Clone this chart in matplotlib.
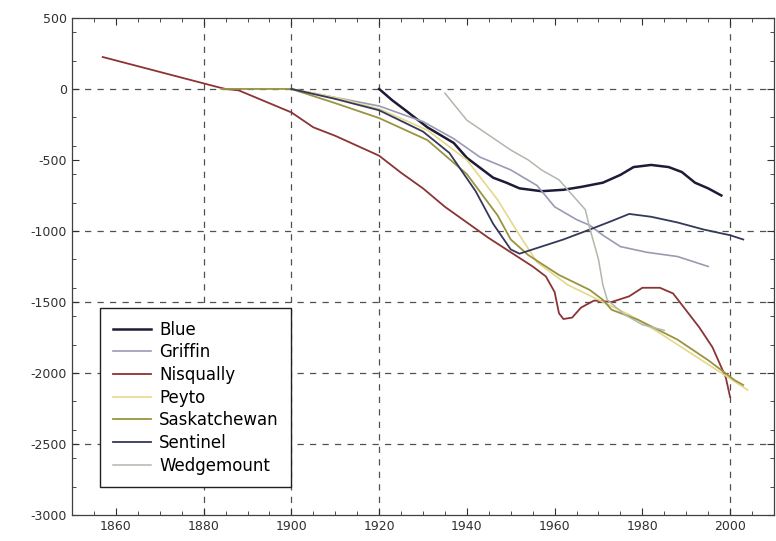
import matplotlib
matplotlib.use("Agg")
import matplotlib.pyplot as plt
from matplotlib.ticker import MultipleLocator

plt.rcParams['font.family'] = ['DejaVu Sans']
plt.rcParams['axes.unicode_minus'] = False

names = ["Blue", "Griffin", "Nisqually", "Peyto", "Saskatchewan", "Sentinel", "Wedgemount"]
colors = ["#1c1c38", "#9a9ab4", "#8a3434", "#e6d88a", "#9a9440", "#34385a", "#b0b8ac"]

blue_years = [1920, 1923, 1926, 1931, 1937, 1940, 1943, 1946, 1949, 1952, 1957, 1962, 1966, 1971, 1975, 1978, 1982, 1986, 1989, 1992, 1995, 1998]
blue_vals = [0, -80, -150, -270, -380, -485, -555, -625, -660, -700, -720, -710, -690, -660, -605, -550, -535, -550, -585, -660, -700, -750]

griffin_years = [1900, 1910, 1920, 1930, 1937, 1943, 1950, 1956, 1960, 1965, 1968, 1971, 1975, 1981, 1988, 1995]
griffin_vals = [0, -60, -120, -230, -350, -480, -570, -680, -830, -920, -960, -1030, -1110, -1150, -1180, -1250]

nisqually_years = [1857, 1870, 1883, 1885, 1888, 1900, 1905, 1910, 1920, 1925, 1930, 1935, 1940, 1945, 1950, 1955, 1958, 1960, 1961, 1962, 1964, 1966, 1969, 1973, 1977, 1980, 1984, 1987, 1990, 1993, 1996, 1999, 2000]
nisqually_vals = [225, 120, 15, 0, -10, -165, -270, -330, -470, -590, -700, -830, -940, -1050, -1150, -1250, -1320, -1430, -1580, -1620, -1610, -1540, -1490, -1500, -1460, -1400, -1400, -1440, -1560, -1680, -1820, -2030, -2170]

peyto_years = [1900, 1910, 1920, 1931, 1940, 1947, 1952, 1956, 1963, 1970, 1977, 1984, 1990, 1997, 2004]
peyto_vals = [0, -60, -140, -290, -500, -780, -1030, -1220, -1380, -1485, -1590, -1720, -1840, -1980, -2120]

sask_years = [1884, 1900, 1910, 1920, 1931, 1940, 1947, 1950, 1954, 1961, 1968, 1971, 1973, 1979, 1988, 1995, 2001, 2003]
sask_vals = [0, 0, -100, -205, -360, -600, -890, -1060, -1170, -1310, -1415, -1485, -1555, -1625, -1765, -1910, -2050, -2085]

sentinel_years = [1900, 1910, 1920, 1930, 1936, 1942, 1946, 1950, 1952, 1957, 1962, 1968, 1973, 1977, 1982, 1988, 1994, 2000, 2003]
sentinel_vals = [0, -70, -150, -300, -450, -720, -950, -1130, -1160, -1110, -1060, -990, -930, -880, -900, -940, -990, -1030, -1060]

wedge_years = [1935, 1940, 1945, 1950, 1954, 1957, 1961, 1964, 1967, 1968, 1970, 1971, 1972, 1976, 1980, 1985]
wedge_vals = [-30, -220, -325, -430, -500, -570, -640, -745, -850, -980, -1200, -1380, -1485, -1590, -1660, -1700]

series_years = [blue_years, griffin_years, nisqually_years, peyto_years, sask_years, sentinel_years, wedge_years]
series_vals = [blue_vals, griffin_vals, nisqually_vals, peyto_vals, sask_vals, sentinel_vals, wedge_vals]
widths = [1.8, 1.2, 1.3, 1.2, 1.3, 1.3, 1.1]

x_ticks = [1860, 1880, 1900, 1920, 1940, 1960, 1980, 2000]
y_ticks = [500, 0, -500, -1000, -1500, -2000, -2500, -3000]
vgrid = [1880, 1900, 1920, 2000]
hgrid = [0, -1000, -1500, -2000, -2500]

fig = plt.figure(figsize=(7.76, 5.41), dpi=100)
ax = fig.add_axes([0.0928, 0.0481, 0.9046, 0.9187])

for v in vgrid:
    ax.axvline(v, color="#505050", lw=0.9, dashes=(5, 5), zorder=1)
for h in hgrid:
    ax.axhline(h, color="#505050", lw=0.9, dashes=(5, 5), zorder=1)

for n, c, yrs, vals, w in zip(names, colors, series_years, series_vals, widths):
    ax.plot(yrs, vals, color=c, lw=w, label=n, zorder=2)

ax.set_xlim(1850, 2010)
ax.set_ylim(-3000, 500)
ax.set_xticks(x_ticks)
ax.set_yticks(y_ticks)
ax.xaxis.set_minor_locator(MultipleLocator(5))
ax.yaxis.set_minor_locator(MultipleLocator(200))
ax.tick_params(which="both", direction="in", top=True, right=True, labelsize=9, colors="#303030")
ax.tick_params(which="major", length=5)
ax.tick_params(which="minor", length=3)
for s in ax.spines.values():
    s.set_color("#404040")
    s.set_linewidth(0.9)

leg = ax.legend(loc="lower left", bbox_to_anchor=(0.04, 0.056), borderaxespad=0,
                fontsize=12, labelspacing=0.28, handlelength=2.3, handletextpad=0.5,
                fancybox=False, framealpha=1, edgecolor="#202020", borderpad=0.75)
leg.get_frame().set_linewidth(1.0)

fig.savefig("out.png", dpi=100)
